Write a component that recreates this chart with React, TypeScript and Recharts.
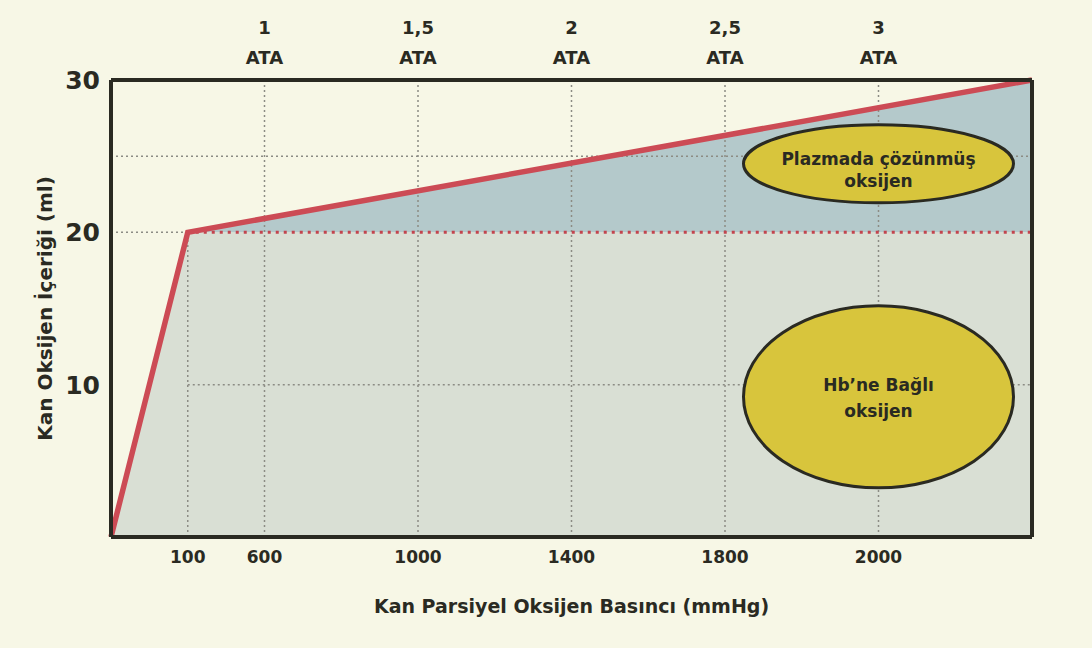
import { ComposedChart, Area, Line, XAxis, YAxis, ReferenceLine, ReferenceDot, Label } from 'recharts';

// x positions are slots on the drawn axis (the original axis is not to scale)
const curvePos = [0, 0.5, 6];
const hbBound = [0, 20, 20];
const plasmaDissolved = [0, 0, 10];

const pressurePos = [0.5, 1, 2, 3, 4, 5];
const pressureLabels = ['100', '600', '1000', '1400', '1800', '2000'];

const ataPos = [1, 2, 3, 4, 5];
const ataLabels = ['1', '1,5', '2', '2,5', '3'];

const leftTicks = [10, 20, 30];
const rightTicks = [0, 5, 10];

const gridY = [10, 25];

const plasmaNote = ['Plazmada çözünmüş', 'oksijen'];
const hbNote = ['Hb’ne Bağlı', 'oksijen'];

const data = curvePos.map((x, i) => ({
  x,
  hb: hbBound[i],
  plasma: plasmaDissolved[i],
  total: hbBound[i] + plasmaDissolved[i],
}));

const FONT = '"DejaVu Sans", Verdana, sans-serif';
const INK = '#2a2a22';
const GRID = '#8c8c84';

function TopTick({ x, y, payload }: any) {
  const label = ataLabels[ataPos.indexOf(payload.value)];
  return (
    <g fontFamily={FONT} fontWeight="bold" fill={INK} fontSize={18}>
      <text x={x} y={y - 46} textAnchor="middle">{label}</text>
      <text x={x} y={y - 16} textAnchor="middle">ATA</text>
    </g>
  );
}

function note(lines: string[], rx: number, ry: number, dy1: number, dy2: number) {
  return (props: any) => (
    <g>
      <ellipse cx={props.cx} cy={props.cy} rx={rx} ry={ry} fill="#d8c53c" stroke={INK} strokeWidth={3} />
      <text x={props.cx} y={props.cy + dy1} textAnchor="middle" fontFamily={FONT} fontWeight="bold" fontSize={17} fill={INK}>
        {lines[0]}
      </text>
      <text x={props.cx} y={props.cy + dy2} textAnchor="middle" fontFamily={FONT} fontWeight="bold" fontSize={17} fill={INK}>
        {lines[1]}
      </text>
    </g>
  );
}

export default function App() {
  return (
    <div style={{ position: 'absolute', left: 0, top: 0, width: 1092, height: 648, background: '#f7f7e6' }}>
      <ComposedChart width={1092} height={648} data={data} margin={{ top: 0, right: 0, bottom: 0, left: 0 }}>
        <XAxis
          dataKey="x"
          type="number"
          domain={[0, 6]}
          ticks={pressurePos}
          tickFormatter={(v) => pressureLabels[pressurePos.indexOf(v)]}
          height={111}
          tickLine={false}
          tickSize={0}
          tickMargin={14}
          axisLine={{ stroke: INK, strokeWidth: 4 }}
          tick={{ fill: INK, fontSize: 17, fontWeight: 'bold', fontFamily: FONT }}
        >
          <Label
            content={({ viewBox }: any) => (
              <text
                x={viewBox.x + viewBox.width / 2}
                y={viewBox.y + 76}
                textAnchor="middle"
                fontFamily={FONT}
                fontWeight="bold"
                fontSize={19}
                fill={INK}
              >
                Kan Parsiyel Oksijen Basıncı (mmHg)
              </text>
            )}
          />
        </XAxis>
        <XAxis
          xAxisId="top"
          dataKey="x"
          orientation="top"
          type="number"
          domain={[0, 6]}
          allowDataOverflow
          ticks={ataPos}
          height={80}
          tickLine={false}
          tickSize={0}
          tickMargin={0}
          axisLine={{ stroke: INK, strokeWidth: 4 }}
          tick={<TopTick />}
        />
        <YAxis
          yAxisId="left"
          type="number"
          domain={[0, 30]}
          ticks={leftTicks}
          width={111}
          tickLine={false}
          tickSize={0}
          tickMargin={11}
          axisLine={{ stroke: INK, strokeWidth: 4 }}
          tick={{ fill: INK, fontSize: 25, fontWeight: 'bold', fontFamily: FONT }}
        >
          <Label
            content={({ viewBox }: any) => {
              const cx = viewBox.x + 45;
              const cy = viewBox.y + viewBox.height / 2 - 0;
              return (
                <text
                  x={cx}
                  y={cy}
                  transform={`rotate(-90 ${cx} ${cy})`}
                  textAnchor="middle"
                  dominantBaseline="central"
                  fontFamily={FONT}
                  fontWeight="bold"
                  fontSize={20}
                  fill={INK}
                >
                  Kan Oksijen İçeriği (ml)
                </text>
              );
            }}
          />
        </YAxis>
        <YAxis
          yAxisId="right"
          orientation="right"
          type="number"
          domain={[-20, 10]}
          ticks={rightTicks}
          width={60}
          tickLine={false}
          tickSize={0}
          tickMargin={14}
          axisLine={{ stroke: INK, strokeWidth: 4 }}
          tick={{ fill: INK, fontSize: 18, fontWeight: 'bold', fontFamily: FONT, textAnchor: 'start' }}
        />

        <Area
          yAxisId="left"
          dataKey="hb"
          stackId="o2"
          type="linear"
          fill="#d9dfd4"
          fillOpacity={1}
          stroke="none"
          isAnimationActive={false}
        />
        <Area
          yAxisId="left"
          dataKey="plasma"
          stackId="o2"
          type="linear"
          fill="#b4c9cb"
          fillOpacity={1}
          stroke="none"
          isAnimationActive={false}
        />

        {gridY.map((v) => (
          <ReferenceLine
            key={`gy${v}`}
            yAxisId="left"
            segment={[{ x: v === 10 ? pressurePos[0] : 0, y: v }, { x: 6, y: v }]}
            stroke={GRID}
            strokeWidth={1.5}
            strokeDasharray="2 3"
          />
        ))}
        <ReferenceLine
          yAxisId="left"
          segment={[{ x: 0, y: hbBound[1] }, { x: pressurePos[0], y: hbBound[1] }]}
          stroke={GRID}
          strokeWidth={1.5}
          strokeDasharray="2 3"
        />
        <ReferenceLine
          yAxisId="left"
          segment={[{ x: pressurePos[0], y: 0 }, { x: pressurePos[0], y: hbBound[1] }]}
          stroke={GRID}
          strokeWidth={1.5}
          strokeDasharray="2 3"
        />
        {pressurePos.slice(1).map((v) => (
          <ReferenceLine key={`gx${v}`} yAxisId="left" x={v} stroke={GRID} strokeWidth={1.5} strokeDasharray="2 3" />
        ))}
        <ReferenceLine
          yAxisId="left"
          segment={[{ x: pressurePos[0], y: hbBound[1] }, { x: 6, y: hbBound[2] }]}
          stroke="#c2444e"
          strokeWidth={3}
          strokeDasharray="3 5"
        />

        <ReferenceDot yAxisId="left" x={5} y={24.5} r={0} shape={note(plasmaNote, 135, 39, 1, 23)} />
        <ReferenceDot yAxisId="left" x={5} y={9.2} r={0} shape={note(hbNote, 135, 91, -6, 20)} />

        <Line
          yAxisId="left"
          dataKey="total"
          type="linear"
          stroke="#cc4b55"
          strokeWidth={5.5}
          dot={false}
          isAnimationActive={false}
        />
      </ComposedChart>
    </div>
  );
}
